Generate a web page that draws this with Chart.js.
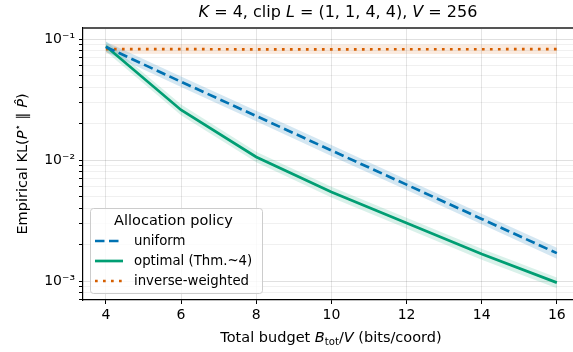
<!DOCTYPE html>
<html>
<head>
<meta charset="utf-8">
<script src="https://cdn.jsdelivr.net/npm/chart.js@4"></script>
<style>
  html, body { margin: 0; padding: 0; background: #fff; }
  #wrap { width: 573px; height: 352px; }
</style>
</head>
<body>
<div id="wrap"><canvas id="myChart" width="573" height="352"></canvas></div>
<script>
const budgets = [4, 6, 8, 10, 12, 14, 16];

const uniform = [0.086, 0.0443, 0.0231, 0.0120, 0.00626, 0.00326, 0.0017];
const uniformLo = [0.078, 0.0401, 0.0209, 0.0108, 0.00565, 0.00294, 0.00153];
const uniformHi = [0.095, 0.0490, 0.0255, 0.0133, 0.00690, 0.00360, 0.00188];

const optimal = [0.087, 0.0259, 0.0106, 0.00545, 0.00302, 0.00167, 0.00097];
const optimalLo = [0.079, 0.0234, 0.0096, 0.0049, 0.00272, 0.0015, 0.00087];
const optimalHi = [0.096, 0.0287, 0.0117, 0.0060, 0.00334, 0.00185, 0.00107];

const inverse = [0.0826, 0.0824, 0.0822, 0.0822, 0.0823, 0.0823, 0.0824];
const inverseLo = [0.0755, 0.0753, 0.0751, 0.0751, 0.0752, 0.0752, 0.0753];
const inverseHi = [0.0905, 0.0903, 0.0901, 0.0901, 0.0902, 0.0902, 0.0903];

const xTicks = [4, 6, 8, 10, 12, 14, 16];

const BLUE = '#0072B2', GREEN = '#009E73', ORANGE = '#D55E00';
const FONT = 'DejaVu Sans';

function pts(ys) { return budgets.map((x, i) => ({ x: x, y: ys[i] })); }

function band(lo, hi, color) {
    return [
        { data: pts(lo), borderWidth: 0, pointRadius: 0, fill: false, order: 5 },
        { data: pts(hi), borderWidth: 0, pointRadius: 0, fill: '-1', backgroundColor: color, order: 5 }
    ];
}

const series = [
    { label: 'uniform', data: pts(uniform), borderColor: BLUE, borderDash: [9.5, 4.5] },
    { label: 'optimal (Thm.~4)', data: pts(optimal), borderColor: GREEN, borderDash: [] },
    { label: 'inverse-weighted', data: pts(inverse), borderColor: ORANGE, borderDash: [2.7, 5.3] }
];

const datasets = [
    ...band(uniformLo, uniformHi, 'rgba(0,114,178,0.17)'),
    ...band(optimalLo, optimalHi, 'rgba(0,158,115,0.15)'),
    ...band(inverseLo, inverseHi, 'rgba(213,94,0,0.13)'),
    ...series.map(s => ({
        label: s.label, data: s.data, borderColor: s.borderColor, borderDash: s.borderDash,
        borderWidth: 2.7, pointRadius: 0, fill: false, tension: 0, borderCapStyle: 'butt', order: 0
    }))
];

// draw a line of mixed text: segments {t, it, sub, sup}
function richText(ctx, segs, size, cx, cy, angle) {
    const fontFor = s => (s.it ? 'italic ' : '') + ((s.sub || s.sup) ? size * 0.7 : size) + 'px ' + FONT;
    let total = 0;
    segs.forEach(s => { ctx.font = fontFor(s); total += ctx.measureText(s.t).width; });
    ctx.save();
    ctx.translate(cx, cy);
    ctx.rotate(angle || 0);
    ctx.fillStyle = '#000';
    ctx.textBaseline = 'middle';
    ctx.textAlign = 'left';
    let x = -total / 2;
    segs.forEach(s => {
        ctx.font = fontFor(s);
        const dy = s.sub ? size * 0.28 : (s.sup ? -size * 0.35 : 0);
        ctx.fillText(s.t, x, dy);
        x += ctx.measureText(s.t).width;
    });
    ctx.restore();
}

const textPlugin = {
    id: 'texts',
    afterDraw(chart) {
        const ctx = chart.ctx, a = chart.chartArea;
        const cx = (a.left + 490 / 2);

        // top frame line
        ctx.save();
        ctx.strokeStyle = '#555';
        ctx.lineWidth = 2;
        ctx.beginPath();
        ctx.moveTo(a.left, a.top);
        ctx.lineTo(a.right, a.top);
        ctx.stroke();
        ctx.restore();

        richText(ctx, [
            { t: 'K', it: true }, { t: ' = 4, clip ' }, { t: 'L', it: true },
            { t: ' = (1, 1, 4, 4), ' }, { t: 'V', it: true }, { t: ' = 256' }
        ], 16, 338, 13);
        richText(ctx, [
            { t: 'Total budget ' }, { t: 'B', it: true }, { t: 'tot', sub: true },
            { t: '/' }, { t: 'V', it: true }, { t: ' (bits/coord)' }
        ], 14.5, 331, 338);
        richText(ctx, [
            { t: 'Empirical KL(' }, { t: 'P', it: true }, { t: '\u22C6', sup: true },
            { t: ' \u2225 ' }, { t: 'P\u0302', it: true }, { t: ')' }
        ], 14.5, 23, 164, -Math.PI / 2);

        // legend box
        const bx = 90.5, by = 208.5, bw = 172, bh = 85;
        ctx.save();
        ctx.beginPath();
        ctx.roundRect(bx, by, bw, bh, 3);
        ctx.fillStyle = 'rgba(255,255,255,0.8)';
        ctx.fill();
        ctx.strokeStyle = '#cccccc';
        ctx.lineWidth = 1;
        ctx.stroke();
        ctx.fillStyle = '#000';
        ctx.font = '14.5px ' + FONT;
        ctx.textAlign = 'center';
        ctx.textBaseline = 'middle';
        ctx.fillText('Allocation policy', 173.5, 221);
        const rows = [241, 261, 281];
        ctx.textAlign = 'left';
        ctx.font = '13.3px ' + FONT;
        series.forEach((s, i) => {
            ctx.beginPath();
            ctx.setLineDash(s.borderDash);
            ctx.lineWidth = 2.7;
            ctx.strokeStyle = s.borderColor;
            ctx.moveTo(95, rows[i]);
            ctx.lineTo(123, rows[i]);
            ctx.stroke();
            ctx.setLineDash([]);
            ctx.fillText(s.label, 134, rows[i] + 0.5);
        });
        ctx.restore();
    }
};

const config = {
    type: 'line',
    data: { datasets: datasets },
    options: {
        responsive: false,
        animation: false,
        layout: { padding: { top: 28, right: 0, left: 0, bottom: 0 } },
        plugins: {
            legend: { display: false },
            tooltip: { enabled: false },
            title: { display: false }
        },
        scales: {
            x: {
                type: 'linear',
                min: 3.39,
                max: 16.43,
                afterBuildTicks: scale => { scale.ticks = xTicks.map(v => ({ value: v })); },
                afterFit: scale => { scale.height = 52; },
                ticks: { font: { family: FONT, size: 14 }, color: '#000', padding: 3, maxRotation: 0 },
                grid: { color: 'rgba(0,0,0,0.1)', tickColor: '#000', tickLength: 4, lineWidth: 1 },
                border: { display: true, color: '#000', width: 1.2 }
            },
            y: {
                type: 'logarithmic',
                min: 6.97e-4,
                max: 0.1233,
                afterBuildTicks: scale => {
                    const t = [];
                    for (let e = -4; e <= -1; e++) {
                        for (let m = 1; m <= 9; m++) {
                            const v = m * Math.pow(10, e);
                            if (v >= scale.min && v <= scale.max) t.push({ value: v, major: m === 1 });
                        }
                    }
                    scale.ticks = t;
                },
                afterFit: scale => { scale.width = 83; },
                ticks: {
                    autoSkip: false,
                    font: { family: FONT, size: 14 },
                    color: '#000',
                    padding: 4,
                    callback: function (v) {
                        const e = Math.round(Math.log10(v));
                        if (Math.abs(v - Math.pow(10, e)) > 1e-12) return '';
                        const sup = { '-1': '\u207B\u00B9', '-2': '\u207B\u00B2', '-3': '\u207B\u00B3' };
                        return '10' + sup[String(e)];
                    }
                },
                grid: {
                    color: c => (c.tick && c.tick.major) ? 'rgba(0,0,0,0.12)' : 'rgba(0,0,0,0.06)',
                    tickColor: '#000',
                    tickLength: 4,
                    lineWidth: 1
                },
                border: { display: true, color: '#000', width: 1.2 }
            }
        }
    },
    plugins: [textPlugin]
};

const myChart = new Chart(document.getElementById('myChart'), config);
</script>
</body>
</html>
